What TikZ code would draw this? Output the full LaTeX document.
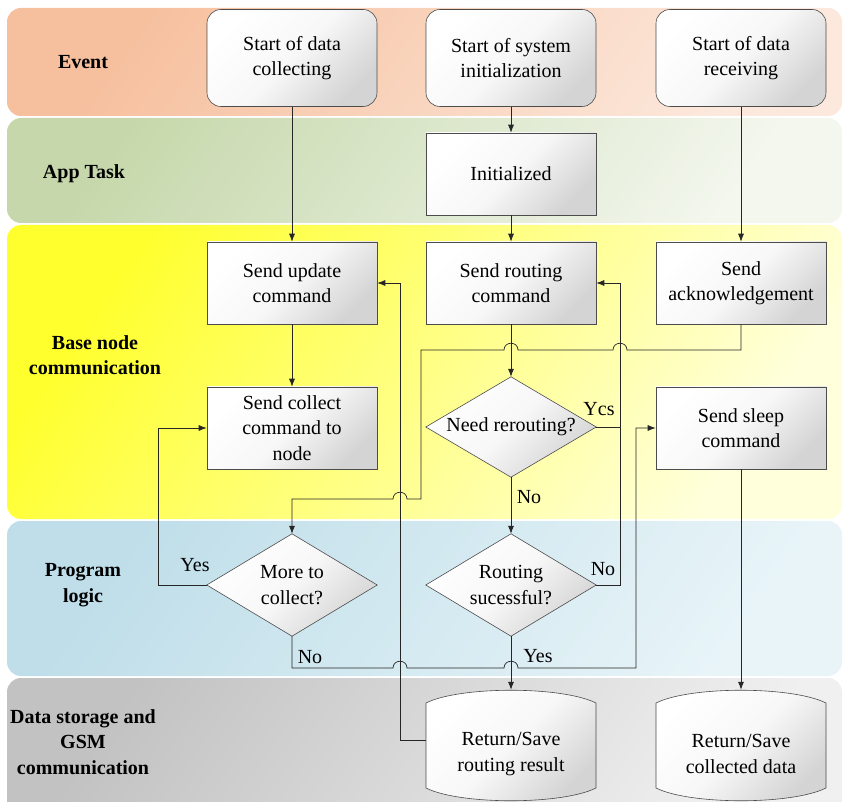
\documentclass[tikz,border=0pt]{standalone}
\usepackage{fontspec}
\setmainfont{Liberation Serif}
\usetikzlibrary{arrows.meta}

% line hops over a crossing horizontal line (travelling left / right)
\newcommand{\hopL}[2]{-- (#1+7,#2) .. controls (#1+7,#2-9) and (#1-7,#2-9) .. (#1-7,#2)}
\newcommand{\hopR}[2]{-- (#1-7,#2) .. controls (#1-7,#2-9) and (#1+7,#2-9) .. (#1+7,#2)}

\definecolor{evtA}{HTML}{F6BF9D}
\definecolor{evtB}{HTML}{FCE8DC}
\definecolor{appA}{HTML}{C6D8AB}
\definecolor{appB}{HTML}{F3F7EE}
\definecolor{baseA}{HTML}{FFFF2E}
\definecolor{baseB}{HTML}{FFFFDC}
\definecolor{progA}{HTML}{BFDEE9}
\definecolor{progB}{HTML}{E8F4F8}
\definecolor{dataA}{HTML}{C2C2C2}
\definecolor{dataB}{HTML}{F0F0F0}

\begin{document}
\begin{tikzpicture}[x=1pt,y=-1pt,
  font=\fontsize{20}{25.5}\selectfont,
  lane/.style={rounded corners=14pt},
  lanelabel/.style={font=\fontsize{20}{25.5}\selectfont\bfseries, align=center},
  boxfill/.style={draw=black!70, line width=0.6pt, top color=white, bottom color=black!17, middle color=black!3, shading angle=45},
  box/.style={boxfill, minimum width=170pt, minimum height=82pt, align=center, inner sep=0pt},
  evt/.style={box, rounded corners=14pt, minimum height=97pt},
  frame/.style={minimum width=170pt, minimum height=100pt, inner sep=0pt},
  txt/.style={align=center, inner sep=0pt},
  flow/.style={draw=black!85, line width=0.7pt},
  arr/.style={flow, -{Latex[length=8pt,width=6pt]}}]

\useasboundingbox (0,0) rectangle (844,802);

% swim lanes
\path[lane, top color=evtA,  bottom color=evtB,  shading angle=55] (7,8)   rectangle (842,116);
\path[lane, top color=appA,  bottom color=appB,  shading angle=55] (7,118) rectangle (842,223);
\path[lane, top color=baseA, bottom color=baseB, shading angle=55] (7,225) rectangle (842,519);
\path[lane, top color=progA, bottom color=progB, shading angle=55] (7,521) rectangle (842,676);
\path[lane, top color=dataA, bottom color=dataB, shading angle=55] (7,678) rectangle (842,816);

\node[lanelabel] (lEvent) at (83,62)  {Event};
\node[lanelabel] (lApp)   at (84,174) {App Task};
\node[lanelabel] (lBase)  at (95,355) {Base node\\communication};
\node[lanelabel] (lProg)  at (83,585) {Program\\logic};
\node[lanelabel] (lData)  at (83,742) {Data storage and\\GSM\\communication};

% events
\node[evt] (sdc) at (292,58) {Start of data\\collecting};
\node[evt] (ssi) at (511,58) {Start of system\\initialization};
\node[evt] (sdr) at (741,58) {Start of data\\receiving};

% process boxes
\node[box] (ini)   at (511,174) {Initialized};
\node[box] (upd)   at (292,283) {Send update\\command};
\node[box] (rout)  at (511,283) {Send routing\\command};
\node[box] (ack)   at (741,283) {Send\\acknowledgement};
\node[box] (coll)  at (292,428) {Send collect\\command to\\node};
\node[box] (sleep) at (741,428) {Send sleep\\command};

% decisions
\node[frame] (rer) at (511,427) {};
\path[boxfill] (rer.north) -- (rer.east) -- (rer.south) -- (rer.west) -- cycle;
\node[txt] (rertxt) at (rer) {Need rerouting?};

\node[frame, minimum height=102pt] (more) at (292,585) {};
\path[boxfill] (more.north) -- (more.east) -- (more.south) -- (more.west) -- cycle;
\node[txt] (moretxt) at (more) {More to\\collect?};

\node[frame, minimum height=102pt] (rs) at (511,585) {};
\path[boxfill] (rs.north) -- (rs.east) -- (rs.south) -- (rs.west) -- cycle;
\node[txt] (rstxt) at (rs) {Routing\\sucessful?};

% storage drums
\node[frame] (rsave) at (511,740) {};
\path[boxfill] (426,703) .. controls (460,686) and (562,686) .. (596,703)
  -- (596,788) .. controls (562,805) and (460,805) .. (426,788) -- cycle;
\node[txt] (rsavetxt) at (511,754) {Return/Save\\routing result};

\node[frame] (csave) at (741,740) {};
\path[boxfill] (656,703) .. controls (690,686) and (792,686) .. (826,703)
  -- (826,788) .. controls (792,805) and (690,805) .. (656,788) -- cycle;
\node[txt] (csavetxt) at (741,754) {Return/Save\\collected data};

% connectors
\draw[arr] (sdc.south) -- (upd.north);
\draw[arr] (ssi.south) -- (ini.north);
\draw[arr] (ini.south) -- (rout.north);
\draw[arr] (sdr.south) -- (ack.north);
\draw[arr] (upd.south) -- (coll.north);
\draw[arr] (rout.south) -- (rer.north);
\draw[arr] (ack.south) -- (741,350) \hopL{620}{350} \hopL{511}{350} -- (421,350)
  -- (421,499) \hopL{400}{499} -- (292,499) -- (more.north);
\draw[arr] (rer.east) -- (620,427) -- (620,283) -- (rout.east);
\draw[flow] (rs.east) -- (620,585) -- (620,427);
\draw[arr] (rer.south) -- (rs.north);
\draw[arr] (rs.south) -- (rsave.north);
\draw[arr] (more.west) -- (158,585) -- (158,428) -- (coll.west);
\draw[arr] (more.south) -- (292,668) \hopR{400}{668} \hopR{511}{668} -- (636,668)
  -- (636,428) -- (sleep.west);
\draw[arr] (rsave.west) -- (400,740) -- (400,283) -- (upd.east);
\draw[arr] (sleep.south) -- (csave.north);

% branch labels
\node (yA) at (599,409) {Ycs};
\node (nA) at (529,497) {No};
\node (nB) at (603,569) {No};
\node (yB) at (538,656) {Yes};
\node (yC) at (195,565) {Yes};
\node (nC) at (310,657) {No};
\end{tikzpicture}
\end{document}
